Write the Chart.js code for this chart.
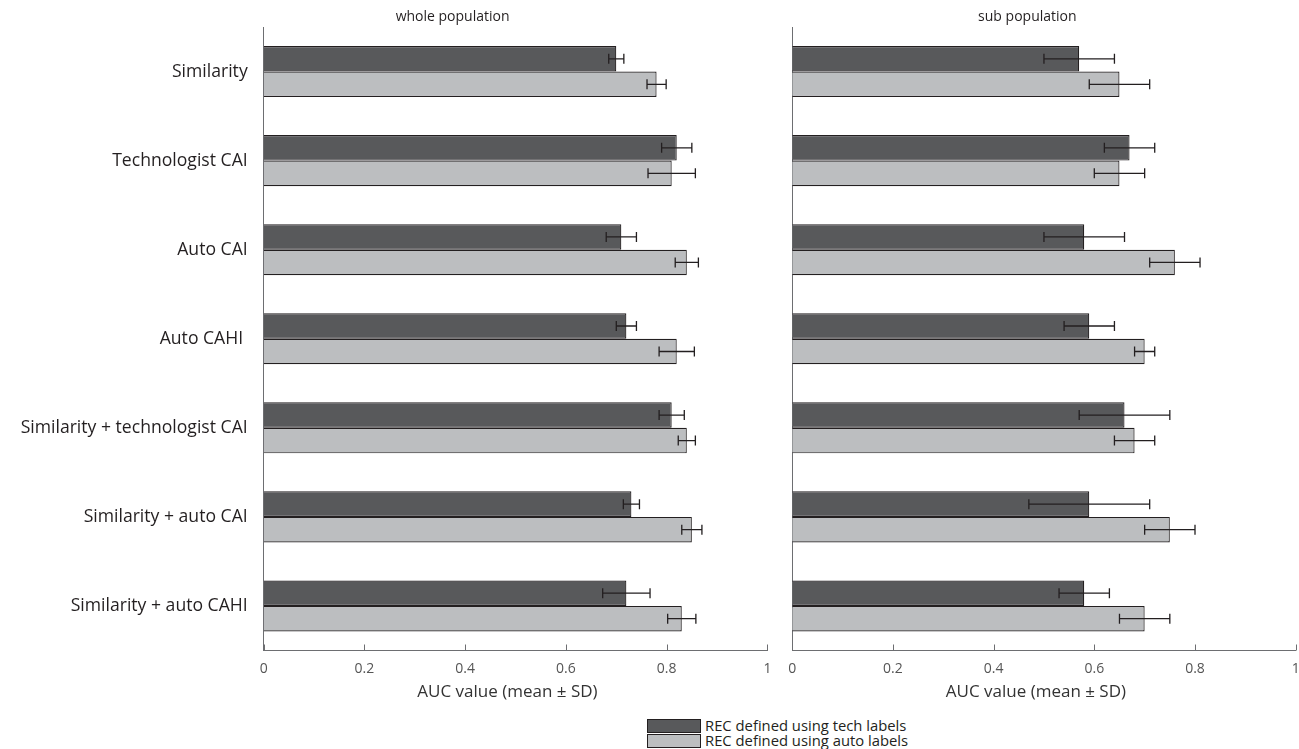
<!DOCTYPE html>
<html>
<head>
<meta charset="utf-8">
<script src="https://cdn.jsdelivr.net/npm/chart.js@4.4.1/dist/chart.umd.min.js"></script>
<style>
  body { margin: 0; background: #fff; width: 1299px; height: 749px; overflow: hidden; position: relative; font-family: "Open Sans", sans-serif; }
  #wrapLeft { position: absolute; left: 0; top: 0; width: 790px; height: 712px; }
  #wrapRight { position: absolute; left: 770px; top: 0; width: 550px; height: 712px; }
  #legend { position: absolute; left: 647px; top: 718px; font-size: 14.8px; color: #231f20; line-height: 15px; }
  #legend div { display: flex; align-items: center; height: 15px; }
  #legend span.box { display: inline-block; width: 52px; height: 12px; border: 1px solid #231f20; margin-right: 4px; }
</style>
</head>
<body>
<div id="wrapLeft"><canvas id="chartLeft"></canvas></div>
<div id="wrapRight"><canvas id="chartRight"></canvas></div>
<div id="legend"></div>
<script>
var categories = ['Similarity', 'Technologist CAI', 'Auto CAI', 'Auto CAHI ', 'Similarity + technologist CAI', 'Similarity + auto CAI', 'Similarity + auto CAHI'];
var seriesNames = ['REC defined using tech labels', 'REC defined using auto labels'];

// whole population
var wholeTech = [0.70, 0.82, 0.71, 0.72, 0.81, 0.73, 0.72];
var wholeTechSD = [0.015, 0.03, 0.03, 0.02, 0.025, 0.016, 0.047];
var wholeAuto = [0.78, 0.81, 0.84, 0.82, 0.84, 0.85, 0.83];
var wholeAutoSD = [0.019, 0.047, 0.023, 0.035, 0.017, 0.02, 0.028];

// sub population
var subTech = [0.57, 0.67, 0.58, 0.59, 0.66, 0.59, 0.58];
var subTechSD = [0.07, 0.05, 0.08, 0.05, 0.09, 0.12, 0.05];
var subAuto = [0.65, 0.65, 0.76, 0.70, 0.68, 0.75, 0.70];
var subAutoSD = [0.06, 0.05, 0.05, 0.02, 0.04, 0.05, 0.05];

var xTicks = [0, 0.2, 0.4, 0.6, 0.8, 1];
var xTitle = 'AUC value (mean \u00b1 SD)';

var darkFill = '#58595b';
var lightFill = '#bcbec0';
var inkColor = '#231f20';
var axisColor = '#6d6e71';

var errorBars = {
    id: 'errorBars',
    afterDatasetsDraw: (chart) => {
        var ctx = chart.ctx;
        var xs = chart.scales.x;
        ctx.save();
        ctx.strokeStyle = inkColor;
        ctx.lineWidth = 1.3;
        chart.data.datasets.forEach((ds, i) => {
            chart.getDatasetMeta(i).data.forEach((bar, j) => {
                var lo = xs.getPixelForValue(ds.data[j] - ds.sd[j]);
                var hi = xs.getPixelForValue(ds.data[j] + ds.sd[j]);
                var y = bar.y;
                ctx.beginPath();
                ctx.moveTo(lo, y); ctx.lineTo(hi, y);
                ctx.moveTo(lo, y - 5); ctx.lineTo(lo, y + 5);
                ctx.moveTo(hi, y - 5); ctx.lineTo(hi, y + 5);
                ctx.stroke();
            });
        });
        ctx.restore();
    }
};

// ticks drawn inward on the x axis, panel caption and axis title
var panelDecor = {
    id: 'panelDecor',
    afterDraw: (chart, args, opts) => {
        var ctx = chart.ctx;
        var xs = chart.scales.x;
        var area = chart.chartArea;
        var w = area.right - area.left;
        ctx.save();
        ctx.strokeStyle = axisColor;
        ctx.lineWidth = 1;
        xTicks.forEach(v => {
            var px = Math.round(xs.getPixelForValue(v)) + 0.5;
            ctx.beginPath();
            ctx.moveTo(px, area.bottom);
            ctx.lineTo(px, area.bottom - 6);
            ctx.stroke();
        });
        ctx.textAlign = 'center';
        ctx.textBaseline = 'middle';
        ctx.fillStyle = inkColor;
        ctx.font = '14px "Open Sans"';
        ctx.fillText(opts.caption, area.left + opts.captionAt * w, 17);
        ctx.fillStyle = '#333';
        ctx.font = '17px "Open Sans"';
        ctx.fillText(xTitle, area.left + 0.484 * w, area.bottom + 42);
        ctx.restore();
    }
};

var makeConfig = (techData, techSD, autoData, autoSD, showLabels, caption, captionAt, yWidth, padRight) => ({
    type: 'bar',
    data: {
        labels: categories,
        datasets: [
            { label: seriesNames[0], data: techData, sd: techSD, backgroundColor: darkFill, borderColor: inkColor, borderWidth: 1.2 },
            { label: seriesNames[1], data: autoData, sd: autoSD, backgroundColor: lightFill, borderColor: inkColor, borderWidth: 1.2 }
        ]
    },
    options: {
        indexAxis: 'y',
        responsive: true,
        maintainAspectRatio: false,
        animation: false,
        events: [],
        categoryPercentage: 0.573,
        barPercentage: 1,
        layout: { padding: { top: 27, right: padRight, left: 0, bottom: 0 } },
        plugins: {
            legend: { display: false },
            tooltip: { enabled: false },
            panelDecor: { caption: caption, captionAt: captionAt }
        },
        scales: {
            x: {
                min: 0,
                max: 1,
                afterBuildTicks: s => { s.ticks = xTicks.map(v => ({ value: v })); },
                afterFit: s => { s.height = 61.5; },
                grid: { display: false, drawTicks: false },
                border: { display: true, color: axisColor, width: 1 },
                ticks: {
                    color: '#555',
                    font: { family: 'Open Sans', size: 14 },
                    padding: 10,
                    maxRotation: 0,
                    callback: v => String(v)
                }
            },
            y: {
                afterFit: s => { s.width = yWidth; },
                grid: { display: false, drawTicks: false },
                border: { display: true, color: axisColor, width: 1 },
                ticks: {
                    display: showLabels,
                    color: inkColor,
                    font: { family: 'Open Sans', size: 17.6 },
                    padding: 16
                }
            }
        }
    },
    plugins: [errorBars, panelDecor]
});

var leftChart = new Chart(document.getElementById('chartLeft'),
    makeConfig(wholeTech, wholeTechSD, wholeAuto, wholeAutoSD, true, 'whole population', 0.375, 263.7, 22.6));
var rightChart = new Chart(document.getElementById('chartRight'),
    makeConfig(subTech, subTechSD, subAuto, subAutoSD, false, 'sub population', 0.467, 22.2, 24.3));

// legend built from the dataset settings
var legendEl = document.getElementById('legend');
leftChart.data.datasets.forEach(ds => {
    var row = document.createElement('div');
    var box = document.createElement('span');
    box.className = 'box';
    box.style.background = ds.backgroundColor;
    row.appendChild(box);
    row.appendChild(document.createTextNode(ds.label));
    legendEl.appendChild(row);
});
</script>
</body>
</html>
